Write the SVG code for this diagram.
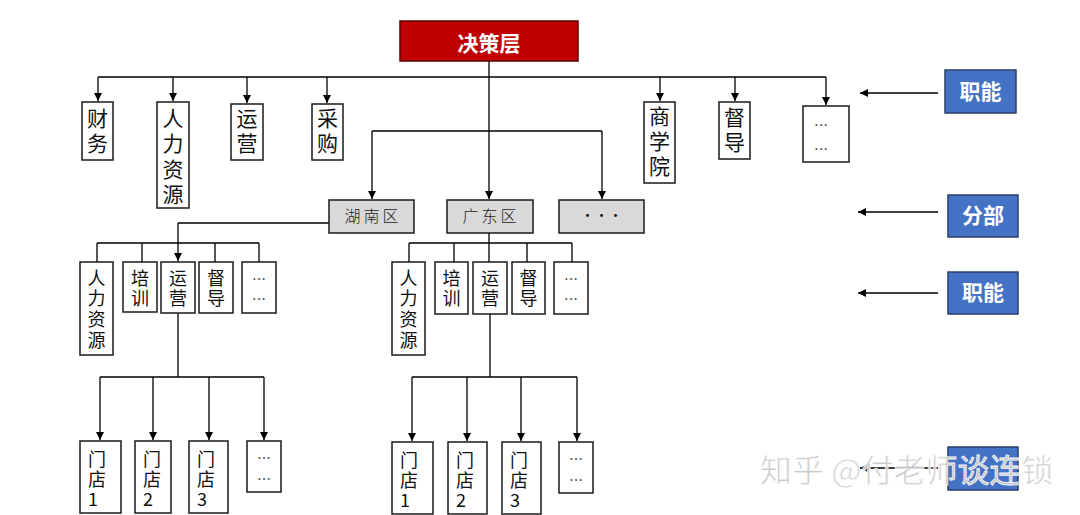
<svg xmlns="http://www.w3.org/2000/svg" width="1080" height="515" viewBox="0 0 1080 515">
<defs>
<marker id="ah" viewBox="0 0 10 10" refX="10" refY="5" markerWidth="8" markerHeight="8" markerUnits="userSpaceOnUse" orient="auto">
<path d="M0,0 L10,5 L0,10 z" fill="#000"/>
</marker>
<style>
.box{fill:#fff;stroke:#1a1a1a;stroke-width:1.5}
.gray{fill:#d9d9d9;stroke:#1a1a1a;stroke-width:1.5}
.blue{fill:#4472c4;stroke:#2a3f66;stroke-width:1.5}
.red{fill:#c00000;stroke:#5a0000;stroke-width:1.5}
.ln{fill:none;stroke:#000;stroke-width:1.3}
.arr{fill:none;stroke:#000;stroke-width:1.3;marker-end:url(#ah)}
.t{font-family:"Noto Sans CJK SC","Noto Sans",sans-serif;font-size:21px;fill:#111;text-anchor:middle}
.s{font-family:"Noto Sans CJK SC","Noto Sans",sans-serif;font-size:18px;fill:#111;text-anchor:middle}
.m{font-family:"Noto Sans CJK SC","Noto Sans",sans-serif;font-size:18px;fill:#111}
.r{font-family:"Noto Sans CJK SC","Noto Sans",sans-serif;font-size:16px;font-weight:300;fill:#222;text-anchor:middle;letter-spacing:3px}
.w{font-family:"Noto Sans CJK SC","Noto Sans",sans-serif;font-size:21px;font-weight:bold;fill:#fff;text-anchor:middle}
.d{font-family:"Noto Sans CJK SC","Noto Sans",sans-serif;font-size:14px;fill:#111;text-anchor:middle}
</style>
</defs>
<rect width="1080" height="515" fill="#fff"/>

<g id="connectors">
<path class="arr" d="M489 61 V199"/>
<path class="ln" d="M98 77 H826"/>
<path class="arr" d="M98 77 V101"/>
<path class="arr" d="M173 77 V101"/>
<path class="arr" d="M247 77 V103"/>
<path class="arr" d="M327 77 V103"/>
<path class="arr" d="M660 77 V101"/>
<path class="arr" d="M735 77 V101"/>
<path class="arr" d="M826 77 V105"/>
<path class="ln" d="M372 131 H602"/>
<path class="arr" d="M372 131 V199"/>
<path class="arr" d="M602 131 V199"/>
<path class="ln" d="M329 223 H178"/>
<path class="arr" d="M178 223 V261"/>
<path class="ln" d="M97 243 H259 M97 243 V262 M142 243 V262 M215 243 V262 M259 243 V262"/>
<path class="ln" d="M178 313 V377 M100 377 H264"/>
<path class="arr" d="M100 377 V440"/>
<path class="arr" d="M153 377 V440"/>
<path class="arr" d="M209 377 V440"/>
<path class="arr" d="M264 377 V440"/>
<path class="ln" d="M489 233 V262 M409 243 H572 M409 243 V262 M454 243 V262 M527 243 V262 M572 243 V262"/>
<path class="ln" d="M490 314 V377 M412 377 H577"/>
<path class="arr" d="M412 377 V441"/>
<path class="arr" d="M467 377 V441"/>
<path class="arr" d="M521 377 V441"/>
<path class="arr" d="M577 377 V441"/>
<path class="arr" d="M938 93 H860"/>
<path class="arr" d="M938 212 H858"/>
<path class="arr" d="M938 293 H858"/>
<path class="arr" d="M938 468 H860"/>
</g>

<g id="n-top"><rect class="red" x="400" y="21" width="178" height="40"/><text class="w" x="489" y="51" font-size="25">决策层</text></g>

<g id="n-cw"><rect class="box" x="82" y="102" width="31" height="58"/><text class="t" x="97.5" y="126">财</text><text class="t" x="97.5" y="151">务</text></g>
<g id="n-rl"><rect class="box" x="157" y="102" width="32" height="106"/><text class="t" x="173" y="126">人</text><text class="t" x="173" y="151">力</text><text class="t" x="173" y="177">资</text><text class="t" x="173" y="202">源</text></g>
<g id="n-yy"><rect class="box" x="231" y="104" width="32" height="56"/><text class="t" x="247" y="126">运</text><text class="t" x="247" y="151">营</text></g>
<g id="n-cg"><rect class="box" x="312" y="104" width="31" height="56"/><text class="t" x="327.5" y="126">采</text><text class="t" x="327.5" y="151">购</text></g>
<g id="n-sxy"><rect class="box" x="644" y="102" width="31" height="81"/><text class="t" x="659.5" y="124">商</text><text class="t" x="659.5" y="149">学</text><text class="t" x="659.5" y="174">院</text></g>
<g id="n-dd"><rect class="box" x="719" y="102" width="31" height="57"/><text class="t" x="734.5" y="125">督</text><text class="t" x="734.5" y="150">导</text></g>
<g id="n-more1"><rect class="box" x="803" y="106" width="46" height="56"/><text class="d" x="821" y="130">…</text><text class="d" x="821" y="154">…</text></g>

<g id="n-hn"><rect class="gray" x="329" y="200" width="85" height="33"/><text class="r" x="373" y="222">湖南区</text></g>
<g id="n-gd"><rect class="gray" x="447" y="200" width="86" height="33"/><text class="r" x="491" y="222">广东区</text></g>
<g id="n-more2"><rect class="gray" x="559" y="200" width="85" height="33"/><text class="d" x="601.5" y="220" font-size="12" fill="#444">···</text></g>

<g id="n-hn-rl"><rect class="box" x="80" y="262" width="33" height="93"/><text class="s" x="96.5" y="285">人</text><text class="s" x="96.5" y="305">力</text><text class="s" x="96.5" y="326">资</text><text class="s" x="96.5" y="347">源</text></g>
<g id="n-hn-px"><rect class="box" x="123" y="262" width="34" height="50"/><text class="s" x="140" y="285">培</text><text class="s" x="140" y="305">训</text></g>
<g id="n-hn-yy"><rect class="box" x="161" y="262" width="34" height="51"/><text class="s" x="178" y="285">运</text><text class="s" x="178" y="305">营</text></g>
<g id="n-hn-dd"><rect class="box" x="199" y="262" width="34" height="51"/><text class="s" x="216" y="285">督</text><text class="s" x="216" y="305">导</text></g>
<g id="n-hn-more"><rect class="box" x="242" y="262" width="34" height="51"/><text class="d" x="259" y="284">…</text><text class="d" x="259" y="304">…</text></g>

<g id="n-gd-rl"><rect class="box" x="392" y="262" width="33" height="93"/><text class="s" x="408.5" y="285">人</text><text class="s" x="408.5" y="305">力</text><text class="s" x="408.5" y="326">资</text><text class="s" x="408.5" y="347">源</text></g>
<g id="n-gd-px"><rect class="box" x="435" y="262" width="33" height="52"/><text class="s" x="451.5" y="285">培</text><text class="s" x="451.5" y="305">训</text></g>
<g id="n-gd-yy"><rect class="box" x="473" y="262" width="34" height="52"/><text class="s" x="490" y="285">运</text><text class="s" x="490" y="305">营</text></g>
<g id="n-gd-dd"><rect class="box" x="512" y="262" width="33" height="52"/><text class="s" x="528.5" y="285">督</text><text class="s" x="528.5" y="305">导</text></g>
<g id="n-gd-more"><rect class="box" x="554" y="262" width="34" height="52"/><text class="d" x="571" y="284">…</text><text class="d" x="571" y="304">…</text></g>

<g id="n-hn-s1"><rect class="box" x="80" y="441" width="41" height="72"/><text class="m" x="88" y="466">门</text><text class="m" x="88" y="486">店</text><text class="m" x="88" y="506">1</text></g>
<g id="n-hn-s2"><rect class="box" x="135" y="441" width="36" height="72"/><text class="m" x="143" y="466">门</text><text class="m" x="143" y="486">店</text><text class="m" x="143" y="506">2</text></g>
<g id="n-hn-s3"><rect class="box" x="189" y="441" width="39" height="72"/><text class="m" x="197" y="466">门</text><text class="m" x="197" y="486">店</text><text class="m" x="197" y="506">3</text></g>
<g id="n-hn-smore"><rect class="box" x="247" y="441" width="34" height="51"/><text class="d" x="264" y="463">…</text><text class="d" x="264" y="484">…</text></g>

<g id="n-gd-s1"><rect class="box" x="392" y="442" width="41" height="72"/><text class="m" x="400" y="467">门</text><text class="m" x="400" y="487">店</text><text class="m" x="400" y="507">1</text></g>
<g id="n-gd-s2"><rect class="box" x="448" y="442" width="39" height="72"/><text class="m" x="456" y="467">门</text><text class="m" x="456" y="487">店</text><text class="m" x="456" y="507">2</text></g>
<g id="n-gd-s3"><rect class="box" x="502" y="442" width="39" height="72"/><text class="m" x="510" y="467">门</text><text class="m" x="510" y="487">店</text><text class="m" x="510" y="507">3</text></g>
<g id="n-gd-smore"><rect class="box" x="559" y="442" width="34" height="51"/><text class="d" x="576" y="464">…</text><text class="d" x="576" y="485">…</text></g>

<g id="lg-zn1"><rect class="blue" x="945" y="70" width="71" height="43"/><text class="w" x="980.5" y="99">职能</text></g>
<g id="lg-fb"><rect class="blue" x="948" y="195" width="70" height="42"/><text class="w" x="983" y="223">分部</text></g>
<g id="lg-zn2"><rect class="blue" x="948" y="272" width="70" height="42"/><text class="w" x="983" y="300">职能</text></g>
<g id="lg-md"><rect class="blue" x="948" y="447" width="70" height="43"/></g>

<text x="760" y="482" font-family="'Noto Sans CJK SC',sans-serif" font-size="32" fill="#c8c8c8" stroke="#ffffff" stroke-width="0.8" opacity="0.95">知乎 @付老师谈连锁</text>
</svg>
